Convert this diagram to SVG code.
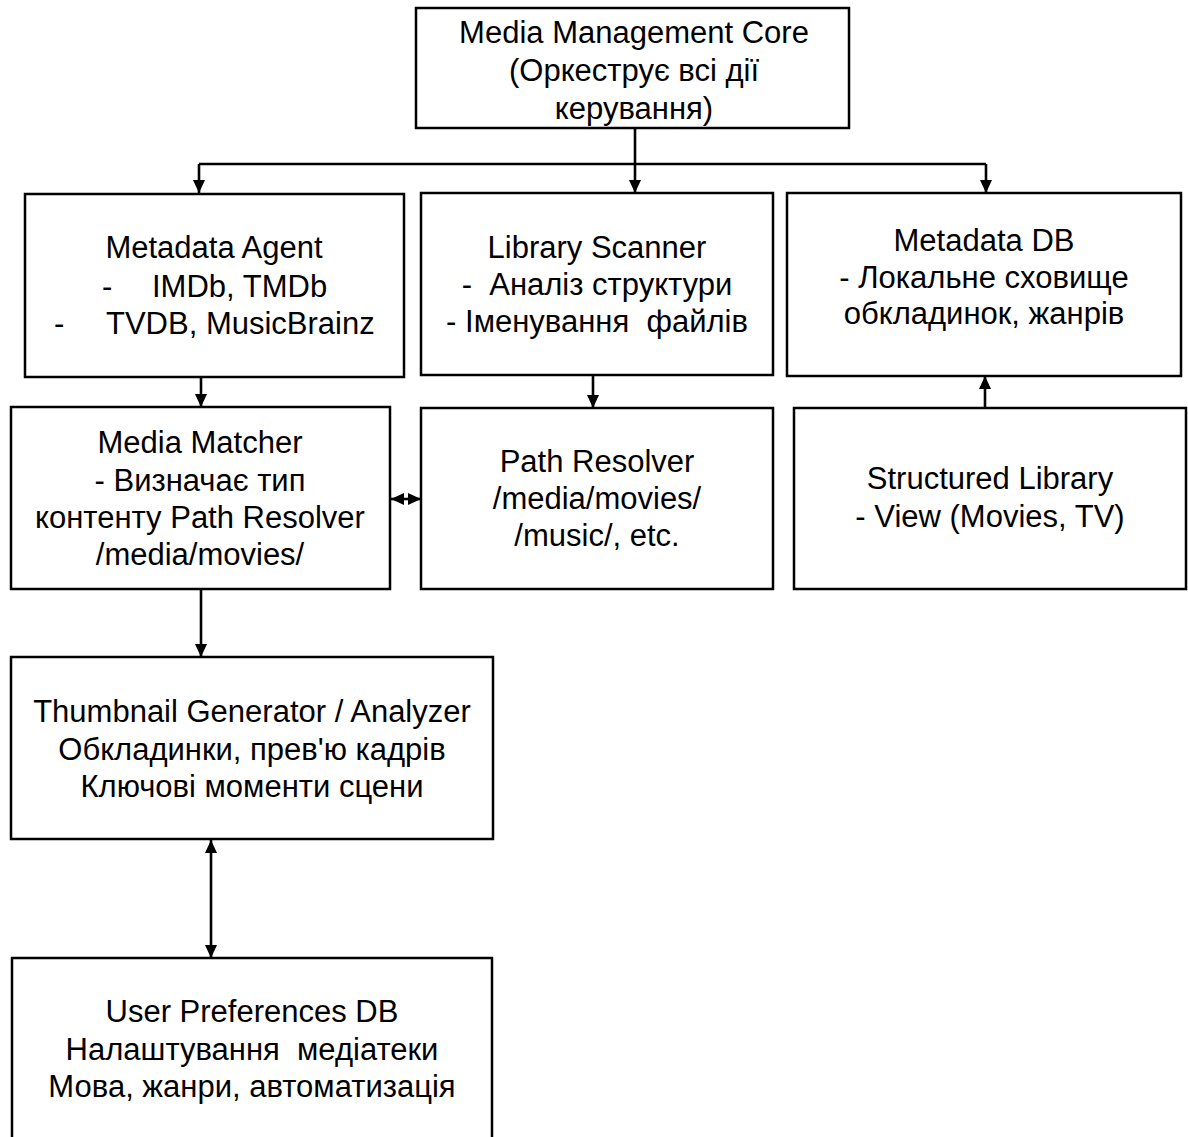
<svg xmlns="http://www.w3.org/2000/svg" width="1188" height="1137" viewBox="0 0 1188 1137">
  <style>
    .box { fill: #ffffff; stroke: #000000; stroke-width: 2.5; }
    .lbl { font-family: "Liberation Sans", Arial, sans-serif; font-size: 31px; fill: #000000; text-anchor: middle; white-space: pre; }
    .lbl-l { font-family: "Liberation Sans", Arial, sans-serif; font-size: 31px; fill: #000000; white-space: pre; }
    .wire { fill: none; stroke: #000000; stroke-width: 2.6; }
  </style>
  <defs>
    <marker id="head" viewBox="0 0 13 12" refX="13" refY="6" markerWidth="13" markerHeight="12" markerUnits="userSpaceOnUse" orient="auto-start-reverse">
      <path d="M0,0 L13,6 L0,12 z" fill="#000000"/>
    </marker>
  </defs>
  <rect width="1188" height="1137" fill="#ffffff"/>

  <g id="connectors">
    <!-- core fans out to the three first-level services -->
    <path class="wire" d="M635,128 V164"/>
    <path class="wire" d="M199,164 H986"/>
    <path class="wire" d="M199,164 V193" marker-end="url(#head)"/>
    <path class="wire" d="M635,164 V193" marker-end="url(#head)"/>
    <path class="wire" d="M986,164 V193" marker-end="url(#head)"/>
    <!-- agent to matcher -->
    <path class="wire" d="M201,377 V407" marker-end="url(#head)"/>
    <!-- scanner to resolver -->
    <path class="wire" d="M593,375 V408" marker-end="url(#head)"/>
    <!-- structured library up to metadata db -->
    <path class="wire" d="M985,408 V376" marker-end="url(#head)"/>
    <!-- matcher <-> resolver -->
    <path class="wire" d="M391,499 H421" marker-start="url(#head)" marker-end="url(#head)"/>
    <!-- matcher to thumbnail generator -->
    <path class="wire" d="M201,589 V657" marker-end="url(#head)"/>
    <!-- thumbnail generator <-> user preferences -->
    <path class="wire" d="M211,840 V958" marker-start="url(#head)" marker-end="url(#head)"/>
  </g>

  <g id="core">
    <rect class="box" x="416" y="8" width="433" height="120"/>
    <text class="lbl" x="634" y="43">Media Management Core</text>
    <text class="lbl" x="634" y="81">(Оркеструє всі дії</text>
    <text class="lbl" x="634" y="119">керування)</text>
  </g>

  <g id="metadata-agent">
    <rect class="box" x="25" y="194" width="379" height="183"/>
    <text class="lbl" x="214" y="258">Metadata Agent</text>
    <text class="lbl-l" x="102" y="297">-</text>
    <text class="lbl-l" x="152" y="297">IMDb, TMDb</text>
    <text class="lbl-l" x="54" y="334">-</text>
    <text class="lbl-l" x="106" y="334">TVDB, MusicBrainz</text>
  </g>

  <g id="library-scanner">
    <rect class="box" x="421" y="193" width="352" height="182"/>
    <text class="lbl" x="597" y="258">Library Scanner</text>
    <text class="lbl" x="597" y="295">-  Аналіз структури</text>
    <text class="lbl" x="597" y="332">- Іменування  файлів</text>
  </g>

  <g id="metadata-db">
    <rect class="box" x="787" y="193" width="394" height="183"/>
    <text class="lbl" x="984" y="251">Metadata DB</text>
    <text class="lbl" x="984" y="288">- Локальне сховище</text>
    <text class="lbl" x="984" y="324">обкладинок, жанрів</text>
  </g>

  <g id="media-matcher">
    <rect class="box" x="11" y="407" width="379" height="182"/>
    <text class="lbl" x="200" y="453">Media Matcher</text>
    <text class="lbl" x="200" y="491">- Визначає тип</text>
    <text class="lbl" x="200" y="528">контенту Path Resolver</text>
    <text class="lbl" x="200" y="565">/media/movies/</text>
  </g>

  <g id="path-resolver">
    <rect class="box" x="421" y="408" width="352" height="181"/>
    <text class="lbl" x="597" y="472">Path Resolver</text>
    <text class="lbl" x="597" y="509">/media/movies/</text>
    <text class="lbl" x="597" y="546">/music/, etc.</text>
  </g>

  <g id="structured-library">
    <rect class="box" x="794" y="408" width="392" height="181"/>
    <text class="lbl" x="990" y="489">Structured Library</text>
    <text class="lbl" x="990" y="527">- View (Movies, TV)</text>
  </g>

  <g id="thumbnail-generator">
    <rect class="box" x="11" y="657" width="482" height="182"/>
    <text class="lbl" x="252" y="722">Thumbnail Generator / Analyzer</text>
    <text class="lbl" x="252" y="760">Обкладинки, прев'ю кадрів</text>
    <text class="lbl" x="252" y="797">Ключові моменти сцени</text>
  </g>

  <g id="user-preferences">
    <rect class="box" x="12" y="958" width="480" height="190"/>
    <text class="lbl" x="252" y="1022">User Preferences DB</text>
    <text class="lbl" x="252" y="1060">Налаштування  медіатеки</text>
    <text class="lbl" x="252" y="1097">Мова, жанри, автоматизація</text>
  </g>
</svg>
